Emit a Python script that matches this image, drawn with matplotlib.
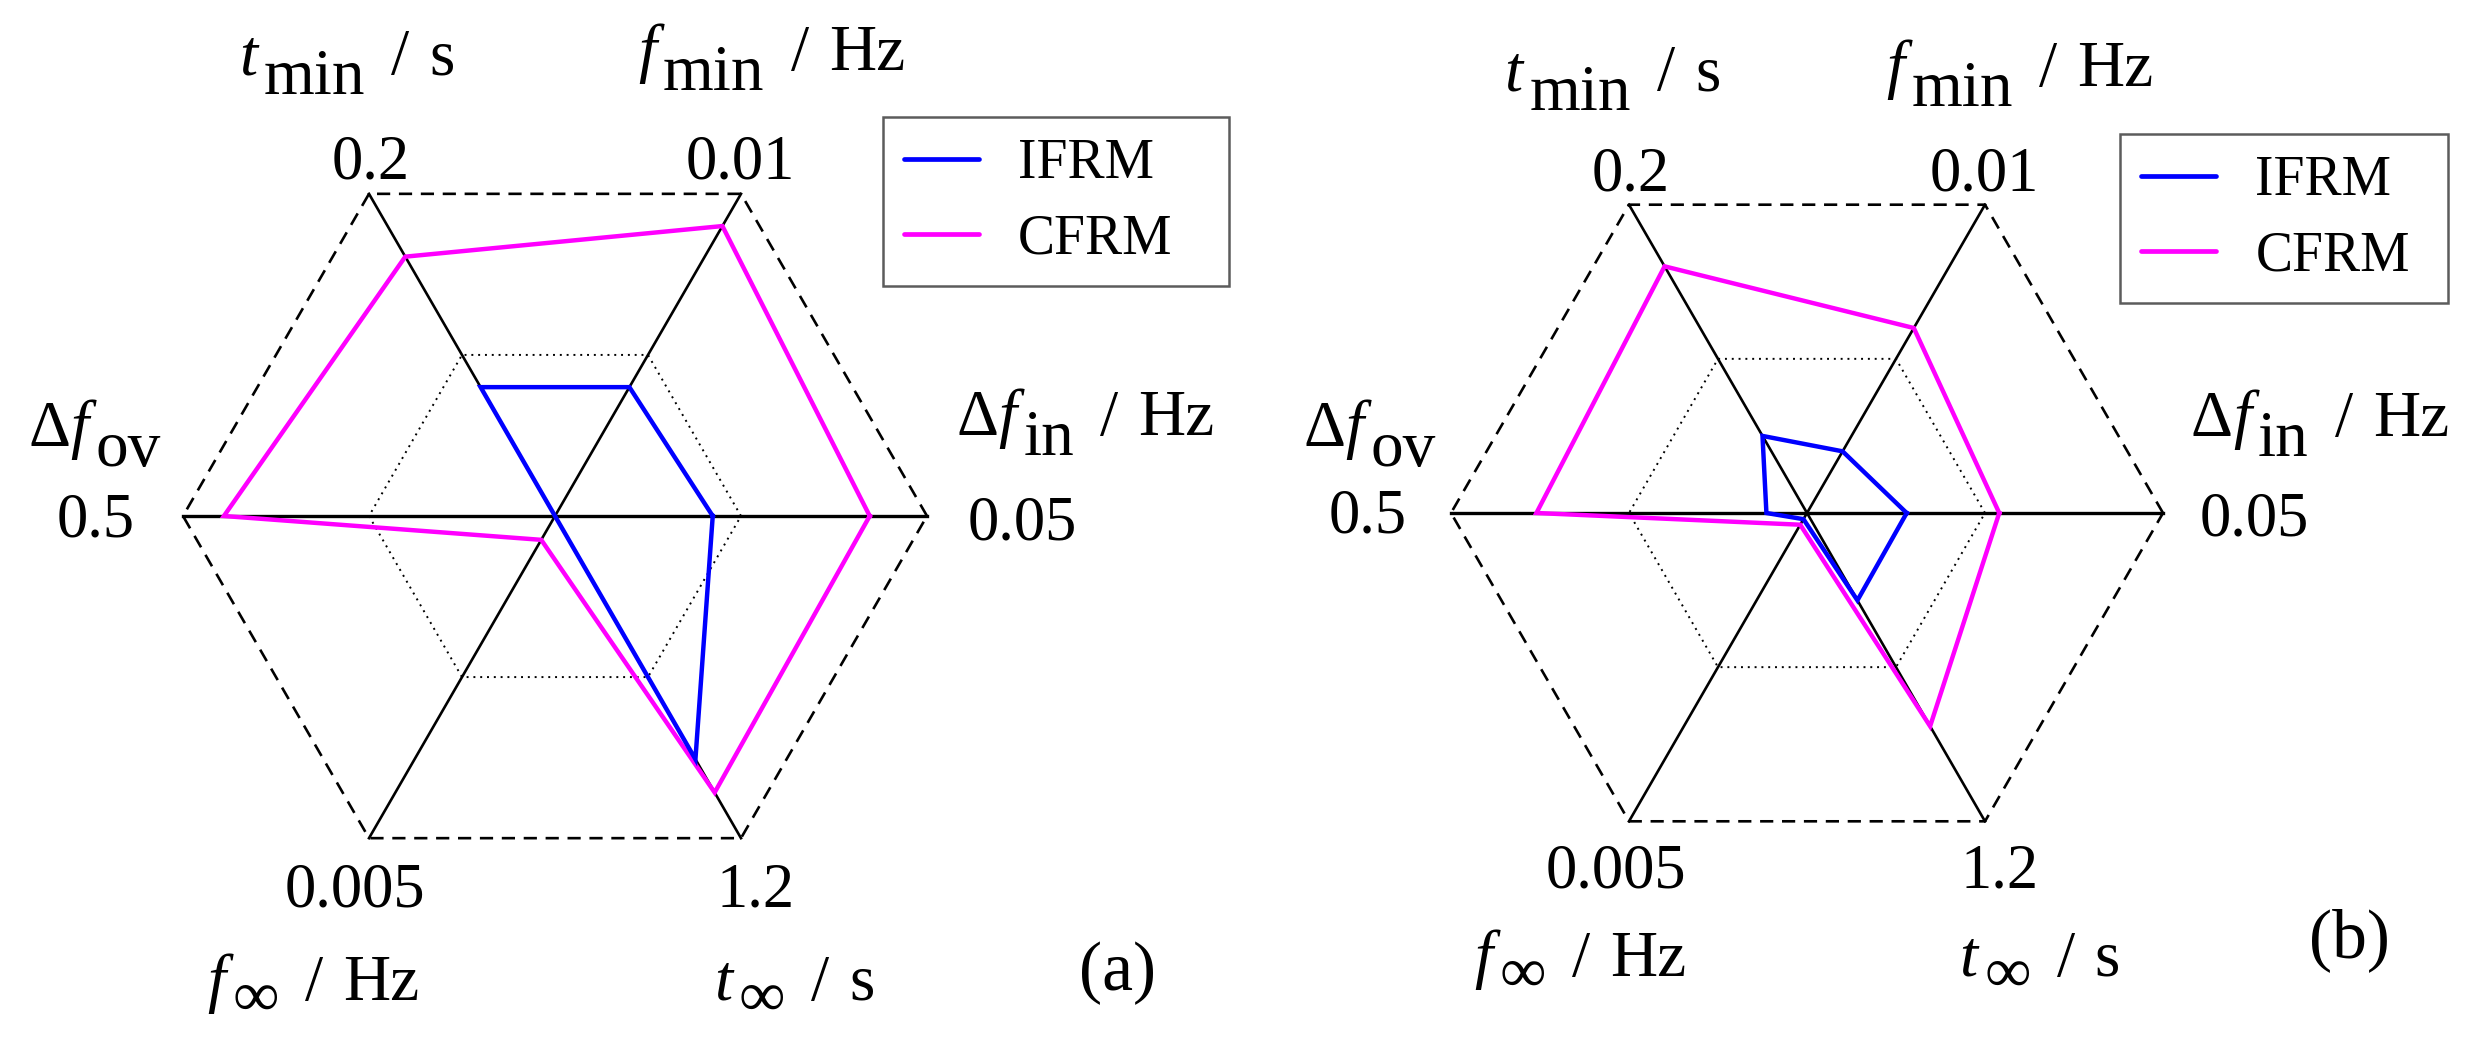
import numpy as np
import matplotlib
matplotlib.use("Agg")
import matplotlib.pyplot as plt
from matplotlib.lines import Line2D

plt.rcParams['font.family'] = ['Liberation Serif', 'DejaVu Serif']

# axes, counter-clockwise starting at the right
# each label: (text, italic, baseline drop in px) pieces
axis_labels = [
    [('Δ', False, 0), ('f', True, 0), ('in', False, 20), ('/', False, 0), ('Hz', False, 0)],
    [('f', True, 0), ('min', False, 20), ('/', False, 0), ('Hz', False, 0)],
    [('t', True, 0), ('min', False, 20), ('/', False, 0), ('s', False, 0)],
    [('Δ', False, 0), ('f', True, 0), ('ov', False, 20)],
    [('f', True, 0), ('∞', False, 16), ('/', False, 0), ('Hz', False, 0)],
    [('t', True, 0), ('∞', False, 16), ('/', False, 0), ('s', False, 0)],
]
axis_max = [0.05, 0.01, 0.2, 0.5, 0.005, 1.2]
max_labels = ['0.05', '0.01', '0.2', '0.5', '0.005', '1.2']

# panel (a)
ifrm_a = [0.0212, 0.0040, 0.080, 0.0, 0.0, 0.906]
cfrm_a = [0.0423, 0.0090, 0.161, 0.445, 0.00037, 1.03]
# panel (b)
ifrm_b = [0.0140, 0.0020, 0.050, 0.057, 0.0001, 0.34]
cfrm_b = [0.0270, 0.0060, 0.160, 0.380, 0.00019, 0.83]

W, H = 2476, 1057
fig = plt.figure(figsize=(W / 100, H / 100), dpi=100)
PT = 72 / 100  # px -> points

ang = np.deg2rad([0, 60, 120, 180, 240, 300])

# positions in units of hexagon radius: label (left, baseline), max value (center, baseline)
label_pos = [(1.078, 0.217), (0.223, 1.20), (-0.85, 1.187), (-1.415, 0.188), (-0.935, -1.30), (0.427, -1.30)]
max_pos = [(1.257, -0.062), (0.498, 0.906), (-0.495, 0.906), (-1.235, -0.056), (-0.538, -1.051), (0.54, -1.051)]
FS = 45
FS_LAB = 47


def rich_label(ax, u, v, parts):
    prev = None
    last_drop = 0
    for i, (s, ital, drop) in enumerate(parts):
        style = 'italic' if ital else 'normal'
        if prev is None:
            prev = ax.text(u, v, s, fontsize=FS_LAB, style=style, ha='left', va='baseline')
        else:
            if drop:
                dx = 7
            elif s == '/':
                dx = 26
            elif parts[i - 1][0] == '/':
                dx = 20
            else:
                dx = 0
            dy = -(drop - last_drop)
            prev = ax.annotate(s, xy=(1, 0), xycoords=prev, xytext=(dx * PT, dy * PT),
                               textcoords='offset points', fontsize=FS_LAB, style=style,
                               ha='left', va='bottom')
        last_drop = drop


def panel(cx, cy, R, ifrm, cfrm, tag, tag_pos, leg_box):
    x0, x1, y0, y1 = -1.5, 1.95, -1.45, 1.45
    ax = fig.add_axes([(cx + x0 * R) / W, (H - cy + y0 * R) / H,
                       (x1 - x0) * R / W, (y1 - y0) * R / H])
    ax.set_xlim(x0, x1)
    ax.set_ylim(y0, y1)
    ax.axis('off')

    hx = np.append(np.cos(ang), np.cos(ang[0]))
    hy = np.append(np.sin(ang), np.sin(ang[0]))
    ax.plot(hx, hy, 'k--', lw=1.9, dashes=(5, 3.3))
    ax.plot(0.5 * hx, 0.5 * hy, 'k:', lw=1.4, dashes=(1, 2.5))
    ax.plot([1, -1], [0, 0], 'k-', lw=2.4)
    for a in ang[1:3]:
        ax.plot([np.cos(a), -np.cos(a)], [np.sin(a), -np.sin(a)], 'k-', lw=1.9)

    for vals, col in [(cfrm, '#ff00ff'), (ifrm, '#0000ff')]:
        r = np.array(vals) / np.array(axis_max)
        px = np.append(r * np.cos(ang), r[0] * np.cos(ang[0]))
        py = np.append(r * np.sin(ang), r[0] * np.sin(ang[0]))
        ax.plot(px, py, color=col, lw=3.2, solid_joinstyle='miter')

    for parts, (u, v) in zip(axis_labels, label_pos):
        rich_label(ax, u, v, parts)
    for lab, (u, v) in zip(max_labels, max_pos):
        ax.text(u, v, lab, fontsize=FS, ha='center', va='baseline')
    ax.text(tag_pos[0], tag_pos[1], tag, fontsize=50, ha='center', va='center')

    handles = [Line2D([], [], color='#0000ff', lw=3.4, solid_capstyle='round'),
               Line2D([], [], color='#ff00ff', lw=3.4, solid_capstyle='round')]
    leg = ax.legend(handles, ['IFRM', 'CFRM'], loc='upper left', bbox_to_anchor=leg_box,
                    bbox_transform=ax.transData, mode='expand', fontsize=40, frameon=True,
                    fancybox=False, handlelength=1.35, handletextpad=0.7, labelspacing=0.42,
                    borderpad=0.38, borderaxespad=0)
    leg.get_frame().set_edgecolor('#333333')
    leg.get_frame().set_linewidth(1.8)
    return ax


# legend boxes: (left, bottom, width, height) in radius units
panel(555, 516, 372, ifrm_a, cfrm_a, '(a)', (1.513, -1.229),
      (0.882, 1.073 - 0.46, 0.93, 0.46))
panel(1807, 513, 356, ifrm_b, cfrm_b, '(b)', (1.525, -1.20),
      (0.880, 1.065 - 0.46, 0.92, 0.46))

fig.savefig('out.png', dpi=100)
